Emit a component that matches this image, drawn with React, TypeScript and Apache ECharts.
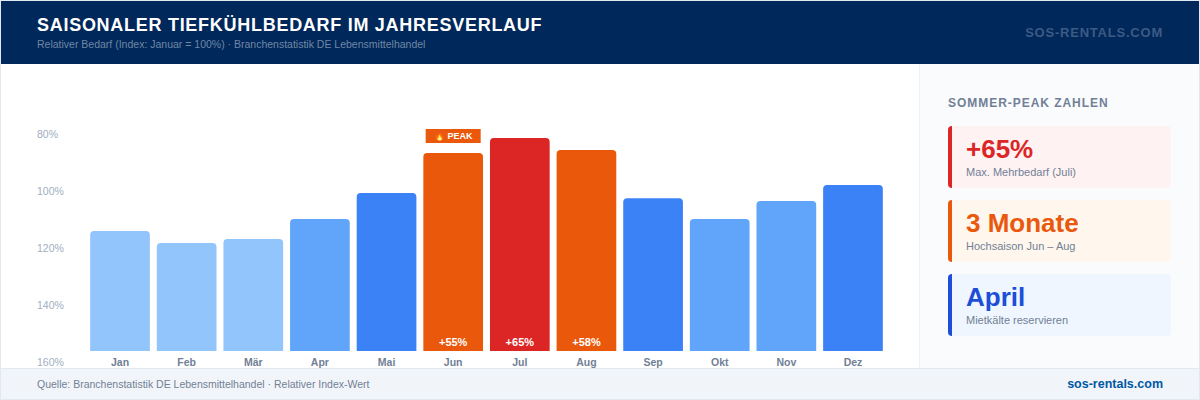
import React, { useEffect, useRef } from "react";
import * as echarts from "echarts";

const months = ["Jan", "Feb", "Mär", "Apr", "Mai", "Jun", "Jul", "Aug", "Sep", "Okt", "Nov", "Dez"];
const demandIndex = [100, 91.6, 94.4, 108.4, 126.6, 154.6, 165, 156.6, 123, 108.4, 121, 132.2];
const barColors = ["#93c5fd", "#93c5fd", "#93c5fd", "#60a5fa", "#3b82f6", "#ea580c", "#dc2626", "#ea580c", "#3b82f6", "#60a5fa", "#60a5fa", "#3b82f6"];
const barLabels = ["", "", "", "", "", "+55%", "+65%", "+58%", "", "", "", ""];
const cardValues = ["+65%", "3 Monate", "April"];
const cardNotes = ["Max. Mehrbedarf (Juli)", "Hochsaison Jun – Aug", "Mietkälte reservieren"];
const cardAccents = ["#dc2626", "#ea580c", "#1d4ed8"];
const cardFills = ["#fef2f2", "#fff7ed", "#eff6ff"];
const cardTextColors = ["#dc2626", "#ea580c", "#1d4ed8"];

const FONT = '"Liberation Sans", Arial, sans-serif';
const spaced: Record<string, string> = {
  "SAISONALER TIEFKÜHLBEDARF IM JAHRESVERLAUF": "0.72",
  "SOS-RENTALS.COM": "0.78",
  "SOMMER-PEAK ZAHLEN": "0.96",
};

const txt = (text: string, x: number, y: number, fontSize: number, fill: string, fontWeight = "normal", textAlign = "left") => ({
  type: "text",
  x,
  y,
  silent: true,
  style: { text, fontSize, fontWeight, fill, fontFamily: FONT, textAlign, textVerticalAlign: "middle" },
});
const box = (x: number, y: number, width: number, height: number, fill: string, r: any = 0) => ({
  type: "rect",
  silent: true,
  shape: { x, y, width, height, r },
  style: { fill },
});

export default function App() {
  const ref = useRef<HTMLDivElement>(null);
  useEffect(() => {
    const chart = echarts.init(ref.current!, undefined, { renderer: "svg" });
    const cards = cardValues.flatMap((value, i) => {
      const top = 126 + i * 74;
      return [
        box(948, top, 12, 62, cardAccents[i], [4, 0, 0, 4]),
        box(952, top, 219, 62, cardFills[i], [0, 4, 4, 0]),
        txt(value, 966, top + 23, 26, cardTextColors[i], "bold"),
        txt(cardNotes[i], 966, top + 46, 11, "#718096"),
      ];
    });
    chart.setOption({
      animation: false,
      backgroundColor: "#ffffff",
      graphic: {
        elements: [
          box(0, 0, 1200, 400, "#e2e8f0"),
          box(1, 1, 1198, 398, "#ffffff"),
          box(1, 1, 1198, 63, "#00285a"),
          txt("SAISONALER TIEFKÜHLBEDARF IM JAHRESVERLAUF", 37, 25, 18, "#ffffff", "bold"),
          txt("Relativer Bedarf (Index: Januar = 100%) · Branchenstatistik DE Lebensmittelhandel", 37, 44, 10.5, "#7187a5"),
          txt("SOS-RENTALS.COM", 1163, 32.5, 13, "#3c5a85", "bold", "right"),
          box(919, 64, 1, 304, "#eef2f7"),
          box(920, 64, 279, 304, "#fafbfd"),
          txt("SOMMER-PEAK ZAHLEN", 948, 103, 12, "#718096", "bold"),
          ...cards,
          box(1, 368, 1198, 1, "#e2e8f0"),
          box(1, 369, 1198, 30, "#f1f5f9"),
          txt("Quelle: Branchenstatistik DE Lebensmittelhandel · Relativer Index-Wert", 37, 384, 10.5, "#718096"),
          txt("sos-rentals.com", 1163, 384, 12.5, "#0058a3", "bold", "right"),
        ],
      },
      grid: [
        { left: 86.7, right: 313.7, top: 134, height: 228 },
        { left: 86.7, right: 313.7, top: 64, height: 287 },
      ],
      xAxis: [
        { gridIndex: 0, type: "category", data: months, show: false },
        {
          gridIndex: 1,
          type: "category",
          data: months,
          axisLine: { show: false },
          axisTick: { show: false },
          axisLabel: { margin: 5, fontSize: 10.5, fontWeight: "bold", color: "#718096", fontFamily: FONT, interval: 0 },
        },
      ],
      yAxis: [
        {
          gridIndex: 0,
          type: "value",
          inverse: true,
          min: 80,
          max: 160,
          interval: 20,
          splitLine: { show: false },
          axisLine: { show: false },
          axisTick: { show: false },
          axisLabel: { formatter: "{value}%", fontSize: 10.5, color: "#a0aec0", fontFamily: FONT, align: "left", margin: 49.7 },
        },
        { gridIndex: 1, type: "value", show: false, min: 16.1, max: 216.8, splitLine: { show: false } },
      ],
      series: [
        {
          type: "bar",
          xAxisIndex: 1,
          yAxisIndex: 1,
          barWidth: 59.7,
          data: demandIndex.map((value, i) => ({
            value,
            itemStyle: { color: barColors[i], borderRadius: [4, 4, 0, 0] },
            label: {
              show: !!barLabels[i],
              formatter: barLabels[i],
              position: "insideBottom",
              distance: 4,
              fontSize: 11,
              fontWeight: "bold",
              color: "#ffffff",
              fontFamily: FONT,
            },
          })),
          markPoint: {
            silent: true,
            symbol: "rect",
            symbolSize: [55, 14],
            symbolOffset: [0, -17],
            itemStyle: { color: "#ea580c" },
            label: { show: true, formatter: "🔥 PEAK", fontSize: 9, fontWeight: "bold", color: "#ffffff", fontFamily: FONT, position: "inside" },
            data: [{ coord: ["Jun", demandIndex[5]] }],
          },
        },
      ],
    });
    const applySpacing = () => {
      ref.current?.querySelectorAll("text").forEach((t) => {
        const s = spaced[t.textContent || ""];
        if (s) t.setAttribute("letter-spacing", s);
      });
    };
    applySpacing();
    const id = requestAnimationFrame(applySpacing);
    return () => {
      cancelAnimationFrame(id);
      chart.dispose();
    };
  }, []);
  return <div ref={ref} style={{ position: "fixed", left: 0, top: 0, width: 1200, height: 400 }} />;
}
